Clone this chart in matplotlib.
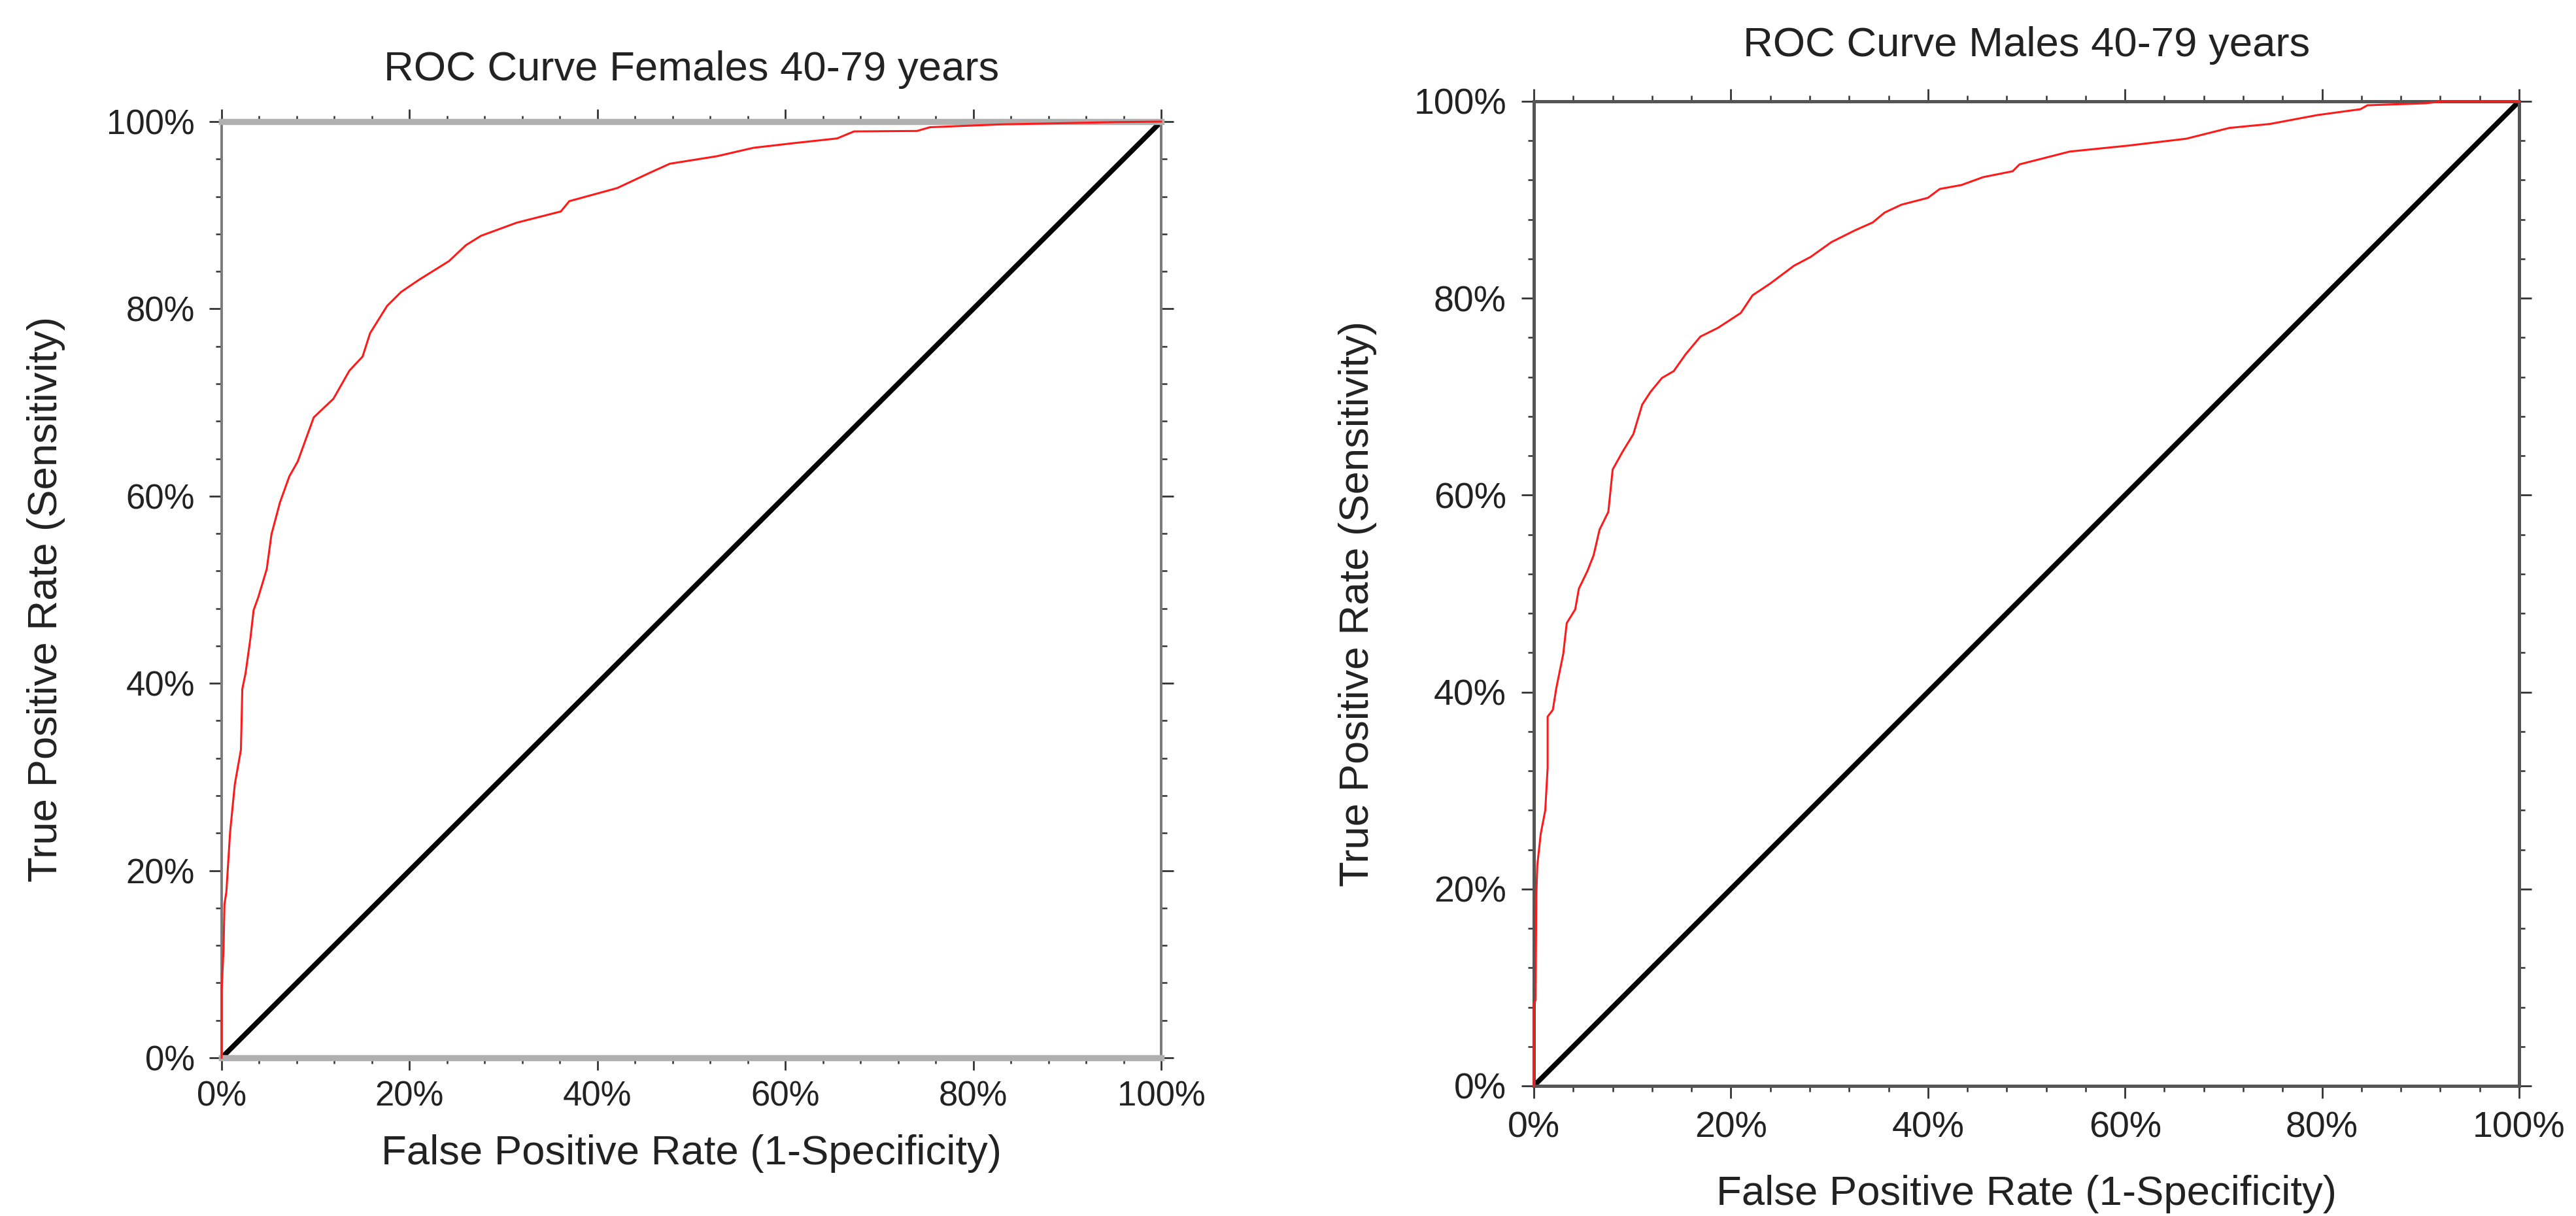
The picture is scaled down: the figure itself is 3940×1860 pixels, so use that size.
import matplotlib
matplotlib.use('Agg')
import matplotlib.pyplot as plt
from matplotlib.ticker import MultipleLocator, PercentFormatter

plt.rcParams['font.family'] = ['Liberation Sans', 'DejaVu Sans']

# values, in percent
fem_fpr = [0, 0, 0.2, 0.3, 0.5, 0.9, 1.4, 2.05, 2.2, 2.55, 3.06, 3.4, 3.9, 4.8, 5.3,
           6.2, 7.2, 8.1, 9.8, 11.9, 13.6, 15.0, 15.8, 17.6, 19.1, 21.0, 24.2, 26.0,
           27.6, 31.4, 36.1, 37.0, 42.1, 45.5, 47.7, 52.7, 56.6, 60.9, 65.5, 67.3,
           74.0, 75.4, 82.9, 95.3, 100]
fem_tpr = [0, 7.2, 11.6, 16.4, 17.7, 24.1, 29.2, 32.9, 39.4, 41.1, 44.8, 47.8, 49.2,
           52.2, 55.9, 59.3, 62.1, 63.7, 68.4, 70.4, 73.4, 74.9, 77.4, 80.3, 81.8,
           83.1, 85.1, 86.8, 87.8, 89.2, 90.4, 91.5, 92.9, 94.5, 95.5, 96.3, 97.2,
           97.7, 98.2, 98.95, 99.0, 99.4, 99.7, 99.95, 100]

male_fpr = [0, 0, 0.18, 0.25, 0.35, 0.7, 1.16, 1.4, 1.4, 1.93, 2.28, 2.99, 3.34, 4.2,
            4.57, 5.44, 6.07, 6.67, 7.56, 8.0, 9.0, 10.1, 11.0, 11.85, 13.0, 14.2,
            15.4, 16.9, 18.7, 21.0, 22.2, 24.0, 26.4, 28.1, 30.2, 32.6, 34.4, 35.6,
            37.3, 40.0, 41.2, 43.4, 45.6, 48.6, 49.3, 54.4, 60.3, 66.2, 70.6, 74.7,
            79.5, 83.9, 84.6, 90.5, 92.2, 100]
male_tpr = [0, 8.4, 8.7, 19.3, 22.4, 25.6, 28.0, 32.3, 37.5, 38.2, 40.4, 43.9, 47.0,
            48.4, 50.5, 52.3, 53.9, 56.5, 58.3, 62.6, 64.4, 66.2, 69.2, 70.5, 71.9,
            72.6, 74.3, 76.1, 77.0, 78.5, 80.3, 81.5, 83.3, 84.2, 85.7, 86.9, 87.7,
            88.7, 89.5, 90.2, 91.1, 91.5, 92.3, 92.9, 93.6, 94.9, 95.5, 96.2, 97.3,
            97.7, 98.6, 99.2, 99.6, 99.8, 100, 100]

titles = ['ROC Curve Females 40-79 years', 'ROC Curve Males 40-79 years']
xlabel = 'False Positive Rate (1-Specificity)'
ylabel = 'True Positive Rate (Sensitivity)'


def roc_panel(ax, fpr, tpr, title, tb_color, tb_width, lr_color, lr_width,
              tick_size, xpad, ypad, title_pad, xlab_y, ylab_x):
    ax.plot([0, 1], [0, 1], color='black', lw=2.8, solid_capstyle='butt', zorder=2)
    ax.plot([v / 100 for v in fpr], [v / 100 for v in tpr], color='#ff1a1a', lw=1.1,
            zorder=3, clip_on=False)
    ax.set_xlim(0, 1)
    ax.set_ylim(0, 1)

    for side in ['top', 'bottom']:
        ax.spines[side].set_color(tb_color)
        ax.spines[side].set_linewidth(tb_width)
    for side in ['left', 'right']:
        ax.spines[side].set_color(lr_color)
        ax.spines[side].set_linewidth(lr_width)

    for axis in [ax.xaxis, ax.yaxis]:
        axis.set_major_locator(MultipleLocator(0.2))
        axis.set_minor_locator(MultipleLocator(0.04))
        axis.set_major_formatter(PercentFormatter(1.0, decimals=0))
    ax.tick_params(which='both', direction='out', top=True, right=True,
                   labeltop=False, labelright=False, colors='#333333',
                   labelcolor='#222222', labelsize=tick_size)
    ax.tick_params(which='major', length=6.8, width=1.0)
    ax.tick_params(which='minor', length=3.4, width=0.9)
    ax.tick_params(axis='x', which='major', pad=xpad)
    ax.tick_params(axis='y', which='major', pad=ypad)

    ax.set_title(title, fontsize=22.8, y=1.0, pad=title_pad, color='#222222')
    ax.set_xlabel(xlabel, fontsize=22.8, color='#222222')
    ax.xaxis.set_label_coords(0.5, xlab_y)
    ax.set_ylabel(ylabel, fontsize=22.8, color='#222222', va='center')
    ax.yaxis.set_label_coords(ylab_x, 0.49)


fig = plt.figure(figsize=(19.705, 9.3), dpi=200)
ax1 = fig.add_axes([0.08602, 0.13011, 0.36463, 0.76989])
ax2 = fig.add_axes([0.59528, 0.10699, 0.38239, 0.80968])

roc_panel(ax1, fem_fpr, fem_tpr, titles[0], '#b0b0b0', 3.4, '#7a7a7a', 1.4,
          19.0, 5.5, 8.0, 22.7, -0.082, -0.187)
roc_panel(ax2, male_fpr, male_tpr, titles[1], '#555555', 1.8, '#555555', 1.8,
          20.0, 7.0, 8.3, 25.0, -0.09, -0.179)

fig.savefig('out.png', dpi=200, facecolor='white')
